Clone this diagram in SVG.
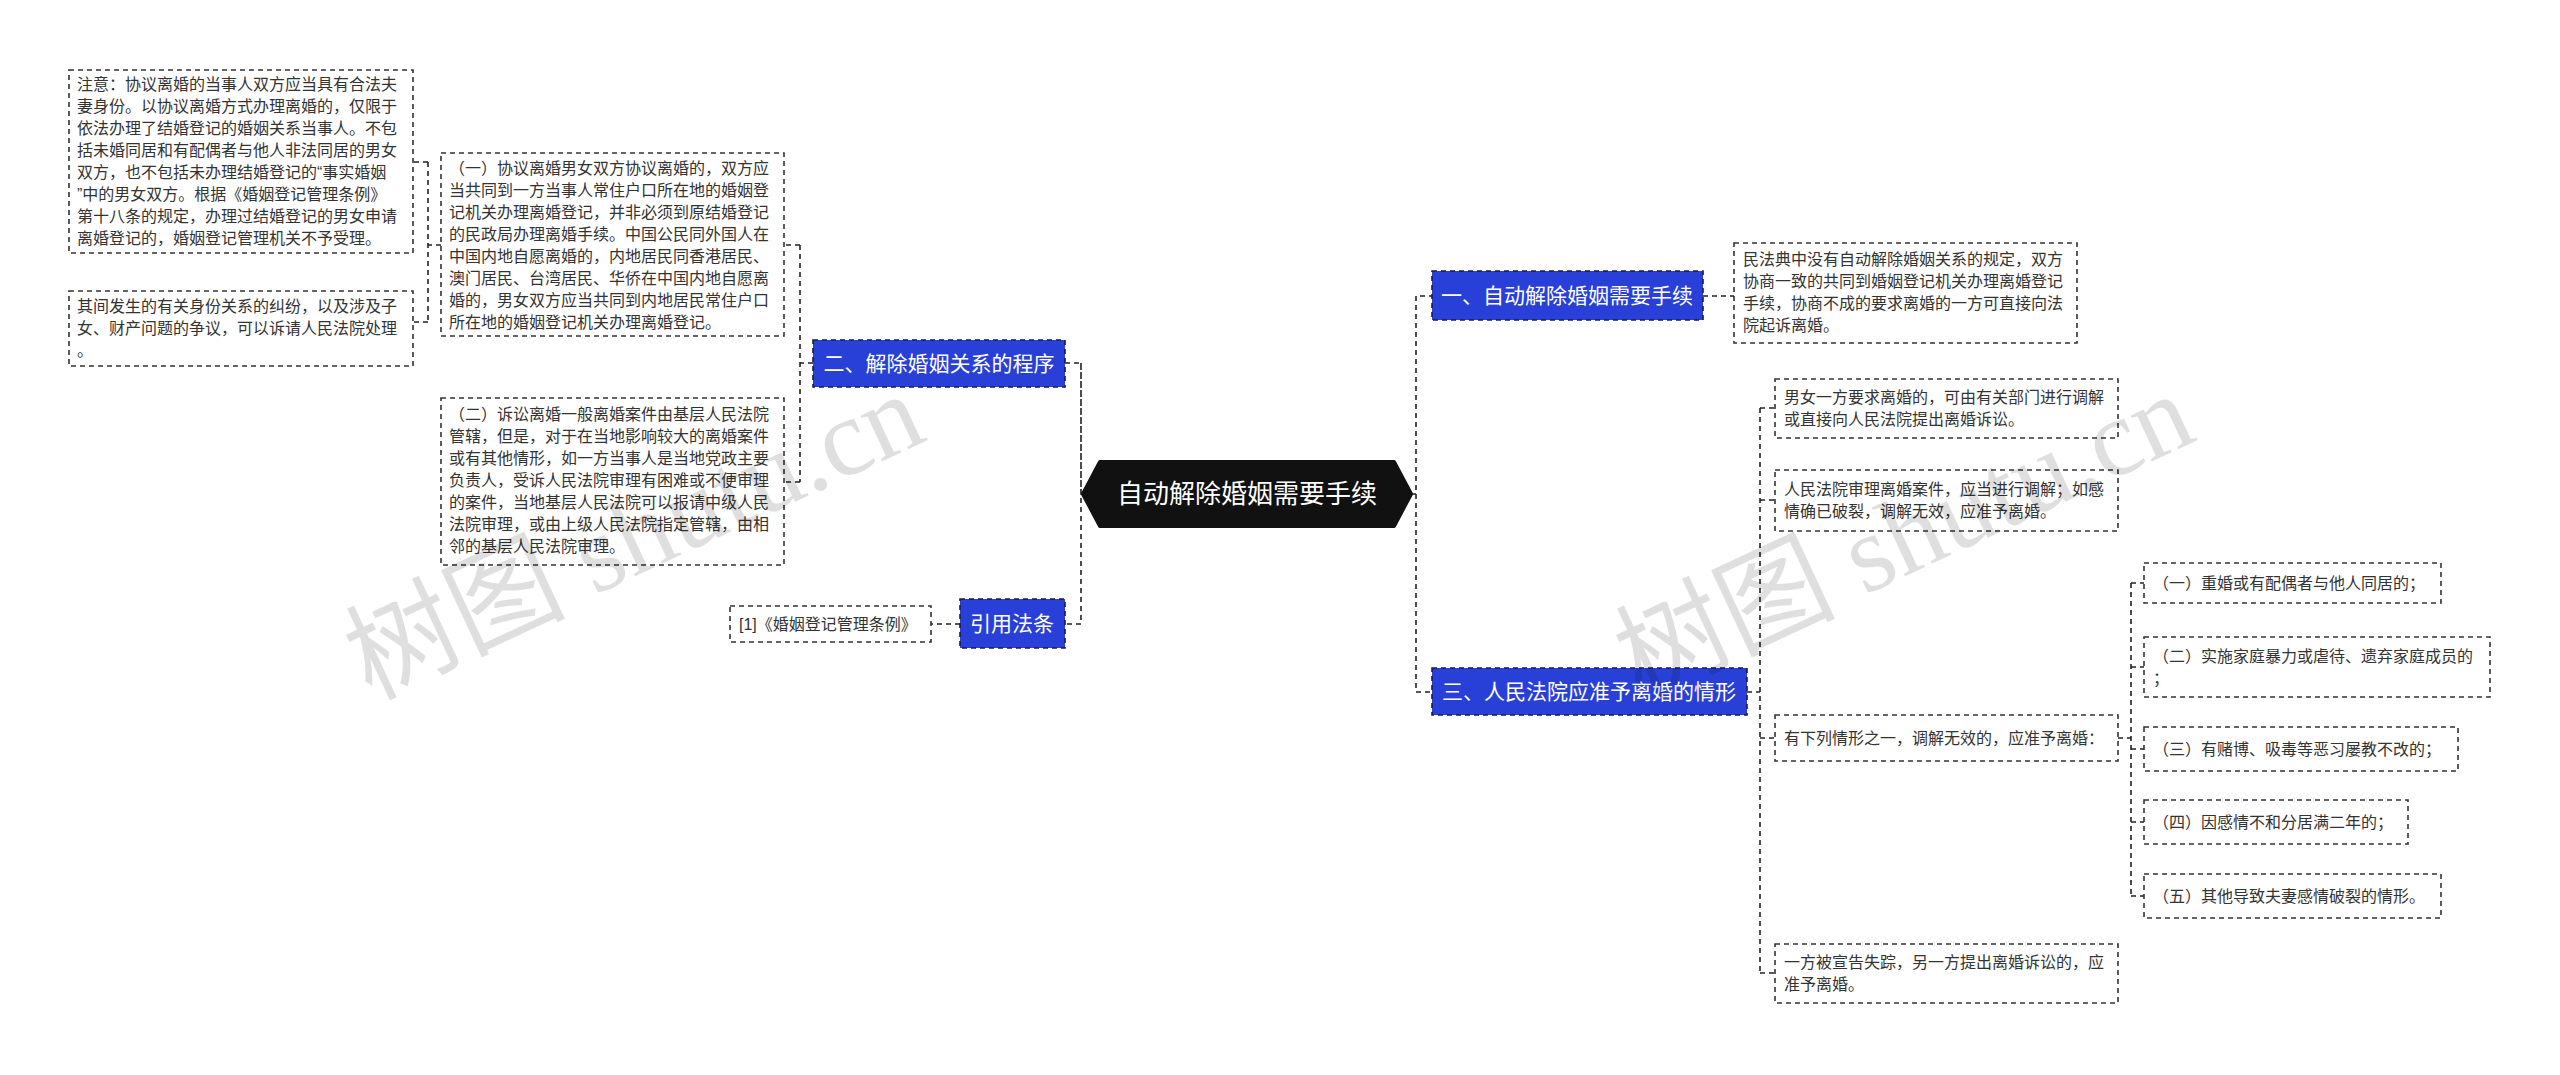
<svg xmlns="http://www.w3.org/2000/svg" width="2560" height="1075" viewBox="0 0 2560 1075">
<style>
.leaf{fill:#fff;stroke:#333;stroke-width:1.6;stroke-dasharray:5,4}
.br{fill:#2940d8;stroke:#1a1a4a;stroke-width:1.6;stroke-dasharray:5,4}
.t{font-family:"Liberation Sans","Noto Sans CJK SC",sans-serif;font-size:16px;fill:#333}
.bt{font-family:"Liberation Sans","Noto Sans CJK SC",sans-serif;font-size:21px;fill:#fff}
.c{fill:none;stroke:#222;stroke-width:1.6;stroke-dasharray:5,4}
.wm{font-family:"Liberation Serif","Noto Sans CJK SC",serif;font-size:110px;fill:#000;opacity:0.12}
</style>
<g id="connectors">
<path class="c" d="M1083 494 H1081 V363 H1065 M1081 363 V624 H1065"/>
<path class="c" d="M1411 494 H1416 V296 H1432 M1416 494 V692 H1432"/>
<path class="c" d="M1703 296 H1734"/>
<path class="c" d="M1747 692 H1760 M1760 408 V973 M1760 408 H1775 M1760 500 H1775 M1760 738 H1775 M1760 973 H1775"/>
<path class="c" d="M2118 738 H2131 M2131 583 V896 M2131 583 H2144 M2131 667 H2144 M2131 749 H2144 M2131 822 H2144 M2131 896 H2144"/>
<path class="c" d="M813 363 H800 M800 245 V482 M800 245 H784 M800 482 H784"/>
<path class="c" d="M441 245 H428 M428 162 V322 M428 162 H413 M428 322 H413"/>
<path class="c" d="M960 624 H931"/>
</g>
<g id="center">
<path d="M1100 462 H1394 L1411 494 L1394 526 H1100 L1083 494 Z" fill="#111" stroke="#111" stroke-linejoin="round" stroke-width="4"/>
<text x="1247" y="503" text-anchor="middle" font-family="Liberation Sans,Noto Sans CJK SC,sans-serif" font-size="26" fill="#fff">自动解除婚姻需要手续</text>
</g>
<g id="b1"><rect class="br" x="1432" y="271" width="271" height="49"/><text class="bt" x="1567" y="303" text-anchor="middle">一、自动解除婚姻需要手续</text></g>
<g id="b3"><rect class="br" x="1432" y="668" width="315" height="47"/><text class="bt" x="1589" y="699" text-anchor="middle">三、人民法院应准予离婚的情形</text></g>
<g id="b2"><rect class="br" x="813" y="340" width="252" height="47"/><text class="bt" x="939" y="371" text-anchor="middle">二、解除婚姻关系的程序</text></g>
<g id="b4"><rect class="br" x="960" y="599" width="105" height="49"/><text class="bt" x="1012" y="631" text-anchor="middle">引用法条</text></g>
<g id="n-zhuyi"><rect class="leaf" x="69" y="70" width="344" height="183"/>
<text class="t"><tspan x="77" y="90">注意：协议离婚的当事人双方应当具有合法夫</tspan><tspan x="77" y="112">妻身份。以协议离婚方式办理离婚的，仅限于</tspan><tspan x="77" y="134">依法办理了结婚登记的婚姻关系当事人。不包</tspan><tspan x="77" y="156">括未婚同居和有配偶者与他人非法同居的男女</tspan><tspan x="77" y="178">双方，也不包括未办理结婚登记的“事实婚姻</tspan><tspan x="77" y="200">”中的男女双方。根据《婚姻登记管理条例》</tspan><tspan x="77" y="222">第十八条的规定，办理过结婚登记的男女申请</tspan><tspan x="77" y="244">离婚登记的，婚姻登记管理机关不予受理。</tspan></text></g>
<g id="n-qijian"><rect class="leaf" x="69" y="291" width="344" height="75"/>
<text class="t"><tspan x="77" y="312">其间发生的有关身份关系的纠纷，以及涉及子</tspan><tspan x="77" y="334">女、财产问题的争议，可以诉请人民法院处理</tspan><tspan x="77" y="356">。</tspan></text></g>
<g id="n-yi"><rect class="leaf" x="441" y="153" width="343" height="183"/>
<text class="t"><tspan x="449" y="174">（一）协议离婚男女双方协议离婚的，双方应</tspan><tspan x="449" y="196">当共同到一方当事人常住户口所在地的婚姻登</tspan><tspan x="449" y="218">记机关办理离婚登记，并非必须到原结婚登记</tspan><tspan x="449" y="240">的民政局办理离婚手续。中国公民同外国人在</tspan><tspan x="449" y="262">中国内地自愿离婚的，内地居民同香港居民、</tspan><tspan x="449" y="284">澳门居民、台湾居民、华侨在中国内地自愿离</tspan><tspan x="449" y="306">婚的，男女双方应当共同到内地居民常住户口</tspan><tspan x="449" y="328">所在地的婚姻登记机关办理离婚登记。</tspan></text></g>
<g id="n-er"><rect class="leaf" x="441" y="398" width="343" height="167"/>
<text class="t"><tspan x="449" y="420">（二）诉讼离婚一般离婚案件由基层人民法院</tspan><tspan x="449" y="442">管辖，但是，对于在当地影响较大的离婚案件</tspan><tspan x="449" y="464">或有其他情形，如一方当事人是当地党政主要</tspan><tspan x="449" y="486">负责人，受诉人民法院审理有困难或不便审理</tspan><tspan x="449" y="508">的案件，当地基层人民法院可以报请中级人民</tspan><tspan x="449" y="530">法院审理，或由上级人民法院指定管辖，由相</tspan><tspan x="449" y="552">邻的基层人民法院审理。</tspan></text></g>
<g id="n-ref"><rect class="leaf" x="730" y="606" width="201" height="36"/><text class="t" x="739" y="630">[1]《婚姻登记管理条例》</text></g>
<g id="n-minfa"><rect class="leaf" x="1734" y="243" width="343" height="100"/>
<text class="t"><tspan x="1743" y="265">民法典中没有自动解除婚姻关系的规定，双方</tspan><tspan x="1743" y="287">协商一致的共同到婚姻登记机关办理离婚登记</tspan><tspan x="1743" y="309">手续，协商不成的要求离婚的一方可直接向法</tspan><tspan x="1743" y="331">院起诉离婚。</tspan></text></g>
<g id="n-nannv"><rect class="leaf" x="1775" y="379" width="343" height="59"/>
<text class="t"><tspan x="1784" y="403">男女一方要求离婚的，可由有关部门进行调解</tspan><tspan x="1784" y="425">或直接向人民法院提出离婚诉讼。</tspan></text></g>
<g id="n-fayuan"><rect class="leaf" x="1775" y="470" width="343" height="61"/>
<text class="t"><tspan x="1784" y="495">人民法院审理离婚案件，应当进行调解；如感</tspan><tspan x="1784" y="517">情确已破裂，调解无效，应准予离婚。</tspan></text></g>
<g id="n-xialie"><rect class="leaf" x="1775" y="715" width="343" height="46"/><text class="t" x="1784" y="744">有下列情形之一，调解无效的，应准予离婚：</text></g>
<g id="n-shizong"><rect class="leaf" x="1775" y="944" width="343" height="59"/>
<text class="t"><tspan x="1784" y="968">一方被宣告失踪，另一方提出离婚诉讼的，应</tspan><tspan x="1784" y="990">准予离婚。</tspan></text></g>
<g id="n-c1"><rect class="leaf" x="2144" y="563" width="297" height="40"/><text class="t" x="2153" y="589">（一）重婚或有配偶者与他人同居的；</text></g>
<g id="n-c2"><rect class="leaf" x="2144" y="637" width="346" height="60"/><text class="t"><tspan x="2153" y="662">（二）实施家庭暴力或虐待、遗弃家庭成员的</tspan><tspan x="2153" y="684">；</tspan></text></g>
<g id="n-c3"><rect class="leaf" x="2144" y="727" width="314" height="44"/><text class="t" x="2153" y="755">（三）有赌博、吸毒等恶习屡教不改的；</text></g>
<g id="n-c4"><rect class="leaf" x="2144" y="800" width="264" height="44"/><text class="t" x="2153" y="828">（四）因感情不和分居满二年的；</text></g>
<g id="n-c5"><rect class="leaf" x="2144" y="874" width="297" height="44"/><text class="t" x="2153" y="902">（五）其他导致夫妻感情破裂的情形。</text></g>
<g id="watermark">
<text class="wm" transform="translate(370,700) rotate(-25)">树图 shutu.cn</text>
<text class="wm" transform="translate(1640,700) rotate(-25)">树图 shutu.cn</text>
</g>
</svg>
